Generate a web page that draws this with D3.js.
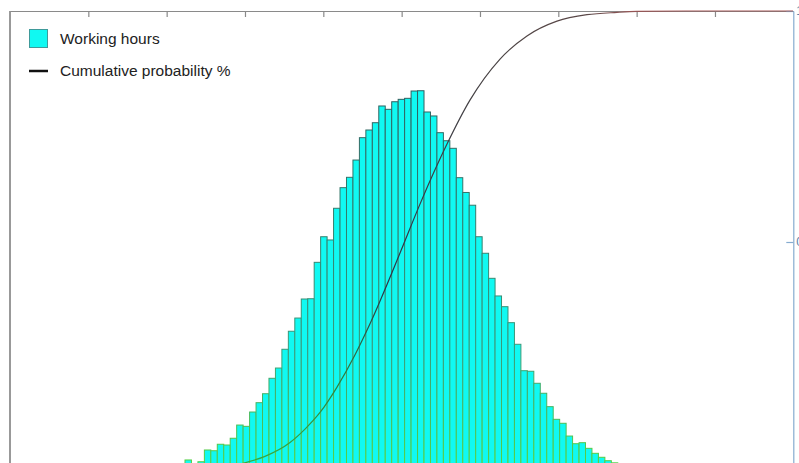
<!DOCTYPE html>
<html><head><meta charset="utf-8">
<script src="https://cdn.jsdelivr.net/npm/d3@7"></script>
<style>html,body{margin:0;padding:0;background:#fff;overflow:hidden}svg{display:block}</style>
</head><body>
<svg id="chart" width="799" height="463"></svg>
<script>
// Histogram of working hours (counts per bin), bins start at 22.34 h with width 0.8247 h
const binStart = 22.34;
const binWidth = 0.8247;
const counts = [14.1,5,12.2,24.9,24.1,31.1,30.3,37.6,51.9,50.5,
  66.0,76.1,85.8,102.5,113.6,133.9,153.4,167.7,188.3,188.6,
  228.0,255.7,252.2,286.5,308.8,320.0,338.7,362.9,371.2,379.1,
  397.2,393.6,401.8,404.4,405.5,413.4,413.7,390.7,386.4,368.3,
  359.6,351.4,319.6,303.6,289.8,255.7,237.8,210.7,191.6,180.0,
  162.7,139.3,110.7,110.1,97.1,86.3,71.8,58.1,53.8,40.0,
  31.7,32.8,26.7,21.3,17.0,13.3,11.0,10.0,9.0,8.0];
// Cumulative probability curve
const cumHours = [22.34,24.26,26.17,29.75,32.55,35.75,37.66,39.58,41.75,44.05,45.96,49.79,52.34,55.79,58.72,62.56,66.00,69.83,73.66,77.49,80.04,88.09,99.96];
const cumProb  = [0.002,0.005,0.010,0.021,0.036,0.066,0.095,0.131,0.186,0.256,0.323,0.476,0.582,0.712,0.807,0.896,0.946,0.978,0.992,0.997,0.999,1.0,1.0];
const xTicks = [10,20,30,40,50,60,70,80,90];
const rightTicks = [0,0.5,1];
const legendLabels = ["Working hours","Cumulative probability %"];

const svg = d3.select("#chart");
const pL = 10, pR = 793.3, pT = 11, pB = 473;
const x = d3.scaleLinear().domain([0,100]).range([pL,pR]);
const yL = d3.scaleLinear().domain([0,500]).range([pB,pT]);
const yR = d3.scaleLinear().domain([0,1]).range([pB,pT]);

const defs = svg.append("defs");
const g1 = defs.append("linearGradient").attr("id","barStroke")
  .attr("gradientUnits","userSpaceOnUse").attr("x1",0).attr("y1",90).attr("x2",0).attr("y2",463);
[[0,"#2f5e5e"],[0.7,"#3a9a7a"],[1,"#58d040"]].forEach(s=>g1.append("stop").attr("offset",s[0]).attr("stop-color",s[1]));
const g2 = defs.append("linearGradient").attr("id","lineStroke")
  .attr("gradientUnits","userSpaceOnUse").attr("x1",0).attr("y1",pT-1).attr("x2",0).attr("y2",pB);
[[0,"#b05a5a"],[0.01,"#5a4848"],[0.1,"#4a4444"],[0.6,"#2c3548"],[0.8,"#2f7f3f"],[1,"#3cb03c"]].forEach(s=>g2.append("stop").attr("offset",s[0]).attr("stop-color",s[1]));

// bars
const bins = counts.map((c,i)=>({x0: binStart + i*binWidth, x1: binStart + (i+1)*binWidth, c}));
svg.append("g").selectAll("rect").data(bins).join("rect")
  .attr("x", d=>x(d.x0)).attr("width", d=>x(d.x1)-x(d.x0))
  .attr("y", d=>yL(d.c)).attr("height", d=>pB - yL(d.c))
  .attr("fill","#10f9f2").attr("stroke","url(#barStroke)").attr("stroke-width",1);

// frame: left line
svg.append("line").attr("x1",pL).attr("x2",pL).attr("y1",pT).attr("y2",pB)
  .attr("stroke","#777").attr("stroke-width",1.5);

// top axis (ticks pointing inward)
const topAxis = d3.axisBottom(x).tickValues(xTicks).tickFormat("").tickSizeInner(6).tickSizeOuter(0);
const ta = svg.append("g").attr("transform",`translate(0,${pT})`).call(topAxis);
ta.selectAll("path,line").attr("stroke","#8a8a8a").attr("stroke-width",1.2);

// right axis
const rightAxis = d3.axisRight(yR).tickValues(rightTicks).tickFormat(d3.format("")).tickSizeInner(-7).tickSizeOuter(0).tickPadding(3);
const ra = svg.append("g").attr("transform",`translate(${pR},0)`).call(rightAxis);
ra.selectAll("path,line").attr("stroke","#86acd0").attr("stroke-width",1.2);
ra.selectAll("text").attr("fill","#5a7fa8").style("font-family","Liberation Sans, Arial, sans-serif").style("font-size","12px");

// cumulative line
const pts = cumHours.map((h,i)=>[h,cumProb[i]]);
svg.append("path").datum(pts)
  .attr("d", d3.line().x(d=>x(d[0])).y(d=>yR(d[1])).curve(d3.curveMonotoneX))
  .attr("fill","none").attr("stroke","url(#lineStroke)").attr("stroke-width",1.2);

// legend
const lg = svg.append("g").style("font-family","Liberation Sans, Arial, sans-serif").style("font-size","15.5px");
lg.append("rect").attr("x",29.5).attr("y",29.5).attr("width",18).attr("height",18)
  .attr("fill","#10f9f2").attr("stroke","#3f9a9a").attr("stroke-width",1);
lg.append("text").attr("x",60).attr("y",44).attr("fill","#222").text(legendLabels[0]);
lg.append("line").attr("x1",29).attr("x2",48).attr("y1",71).attr("y2",71).attr("stroke","#111").attr("stroke-width",2.5);
lg.append("text").attr("x",60).attr("y",76).attr("fill","#222").text(legendLabels[1]);
</script>
</body></html>
